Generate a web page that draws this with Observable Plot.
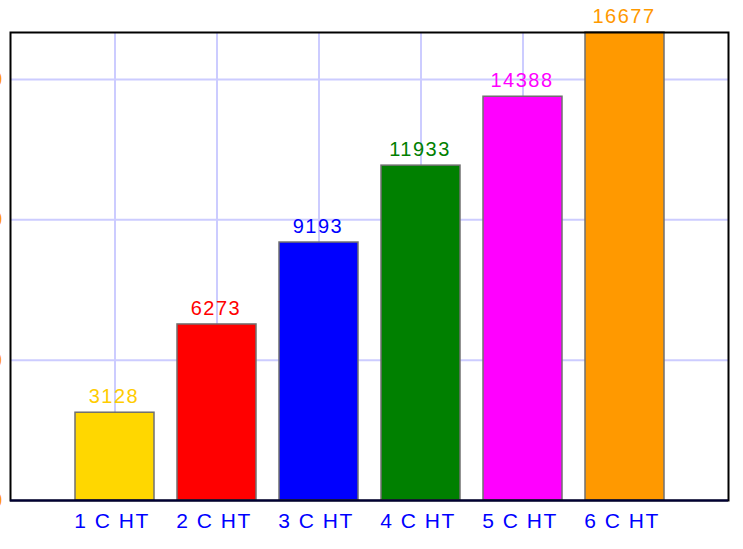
<!DOCTYPE html>
<html>
<head>
<meta charset="utf-8">
<script src="https://cdn.jsdelivr.net/npm/d3@7"></script>
<script src="https://cdn.jsdelivr.net/npm/@observablehq/plot@0.6"></script>
<style>
  html, body { margin: 0; padding: 0; background: #fff; overflow: hidden; }
  #chart svg { display: block; }
  #chart svg text { letter-spacing: 1.5px; }
</style>
</head>
<body>
<div id="chart"></div>
<script>
const categories = ["1 C HT", "2 C HT", "3 C HT", "4 C HT", "5 C HT", "6 C HT"];
const values = [3128, 6273, 9193, 11933, 14388, 16677];
const colors = ["#FFD700", "#FF0000", "#0000FF", "#008000", "#FF00FF", "#FF9900"];
const labelColors = ["#FFCC00", "#FF0000", "#0000FF", "#008000", "#FF00FF", "#FF9900"];
const yTicks = [0, 5000, 10000, 15000];

const data = categories.map((c, i) => ({cat: c, value: values[i], color: colors[i], label: labelColors[i]}));

const chart = Plot.plot({
  width: 743,
  height: 549,
  marginTop: 32,
  marginBottom: 49,
  marginLeft: 10,
  marginRight: 15,
  style: {fontFamily: "'Liberation Sans', Arial, sans-serif", background: "#fff", overflow: "visible"},
  x: {domain: categories, paddingInner: 0.23, paddingOuter: 0.615, label: null},
  y: {domain: [0, 16677], label: null},
  marks: [
    Plot.gridX(categories, {stroke: "#ccccff", strokeOpacity: 1, strokeWidth: 2}),
    Plot.gridY(yTicks, {stroke: "#ccccff", strokeOpacity: 1, strokeWidth: 2}),
    Plot.barY(data, {x: "cat", y: "value", fill: "color", stroke: "#707070", strokeWidth: 1.5}),
    Plot.text(data, {x: "cat", y: "value", text: d => String(d.value), fill: "label", dy: -16, dx: -1, fontSize: 20}),
    Plot.frame({stroke: "#000", strokeWidth: 2}),
    Plot.ruleY([0], {stroke: "#000033", strokeWidth: 2}),
    Plot.axisX({tickSize: 0, tickPadding: 13, fontSize: 21, fill: "#0000FF", dx: -3}),
    Plot.axisY(yTicks, {tickSize: 0, tickPadding: 7, fontSize: 20, fill: "#FF9900"})
  ]
});
document.getElementById("chart").append(chart);
</script>
</body>
</html>
